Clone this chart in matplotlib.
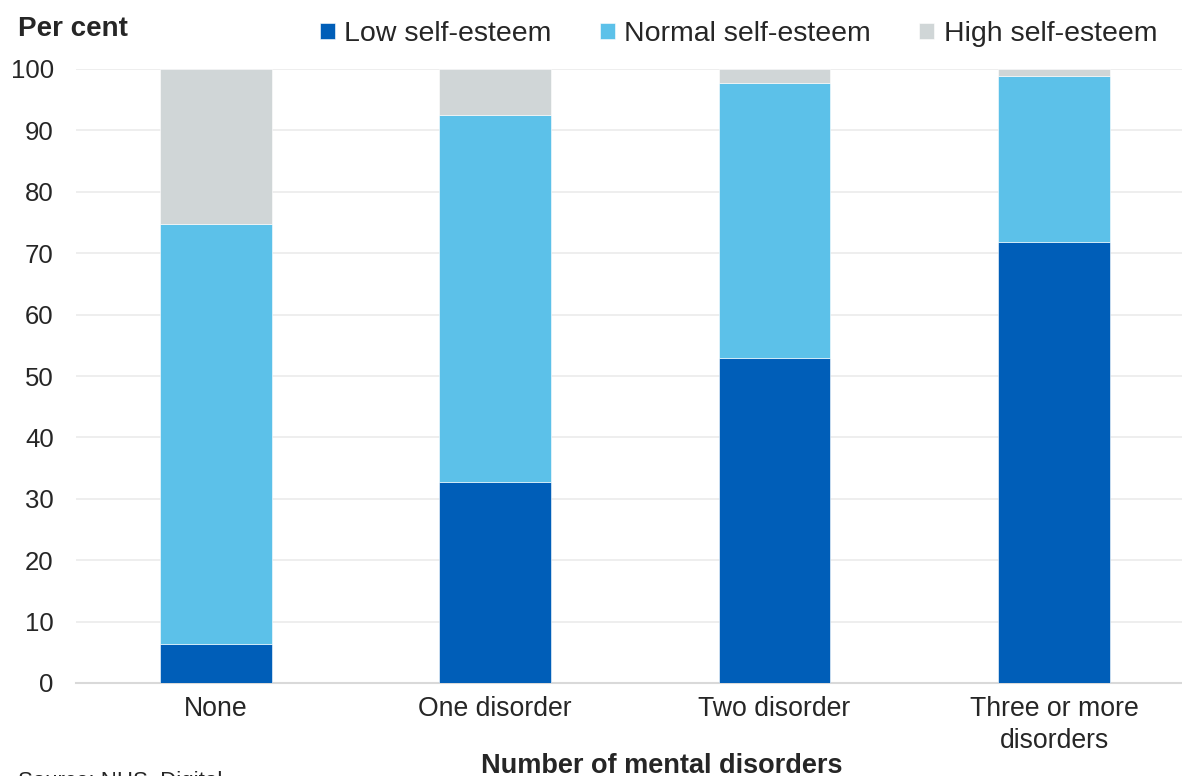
import matplotlib
matplotlib.use("Agg")
import matplotlib.pyplot as plt
import numpy as np

plt.rcParams['font.family'] = ['Liberation Sans', 'DejaVu Sans']

categories = ["None", "One disorder", "Two disorder", "Three or more\ndisorders"]
low = [6.3, 32.7, 53.0, 71.8]
normal = [68.5, 59.8, 44.7, 27.1]
high = [100 - a - b for a, b in zip(low, normal)]
series_names = ["Low self-esteem", "Normal self-esteem", "High self-esteem"]
colours = ["#005EB8", "#5CC1E9", "#D0D6D7"]
yticks = [0, 10, 20, 30, 40, 50, 60, 70, 80, 90, 100]

text_col = "#262626"

fig = plt.figure(figsize=(11.82, 7.76), dpi=100)
ax = fig.add_axes([76 / 1182, 1 - 683 / 776, 1 - 76 / 1182, (683 - 69) / 776])

x = np.arange(len(categories))
bottom = np.zeros(len(categories))
for vals, name, col in zip([low, normal, high], series_names, colours):
    ax.bar(x, vals, width=0.4, bottom=bottom, color=col, label=name,
           edgecolor="white", linewidth=0.4, zorder=3)
    bottom += np.array(vals)

ax.set_xlim(-0.5, 3.458)
ax.set_ylim(0, 100)
ax.set_yticks(yticks)
ax.set_xticks(x)
ax.set_xticklabels(categories, fontsize=19.2, color=text_col, linespacing=1.3)
ax.tick_params(axis='y', length=0, pad=16, labelsize=18.5, labelcolor=text_col)
ax.tick_params(axis='x', length=0, pad=9)
ax.yaxis.grid(True, color="#EBEBEB", linewidth=1.2, zorder=0)
ax.set_axisbelow(True)
for s in ["top", "right", "left"]:
    ax.spines[s].set_visible(False)
ax.spines["bottom"].set_color("#D9D9D9")
ax.spines["bottom"].set_linewidth(1.5)

fig.text(18 / 1182, 1 - 29 / 776, "Per cent", fontsize=20, fontweight="bold",
         color=text_col, va="center", ha="left")
fig.text(662 / 1182, 3 / 776, "Number of mental disorders", fontsize=19.5,
         fontweight="bold", color=text_col, va="baseline", ha="center")
fig.text(18 / 1182, 1 - 782 / 776, "Source: NHS  Digital", fontsize=16,
         color=text_col, va="center", ha="left")

leg = fig.legend(loc="center right", bbox_to_anchor=(1157 / 1182, 1 - 34 / 776),
                 ncol=3, frameon=False, fontsize=20.5, handlelength=0.53,
                 handleheight=0.53, handletextpad=0.32, columnspacing=1.7,
                 borderaxespad=0, borderpad=0)
for t in leg.get_texts():
    t.set_color(text_col)

fig.savefig("out.png", dpi=100)
